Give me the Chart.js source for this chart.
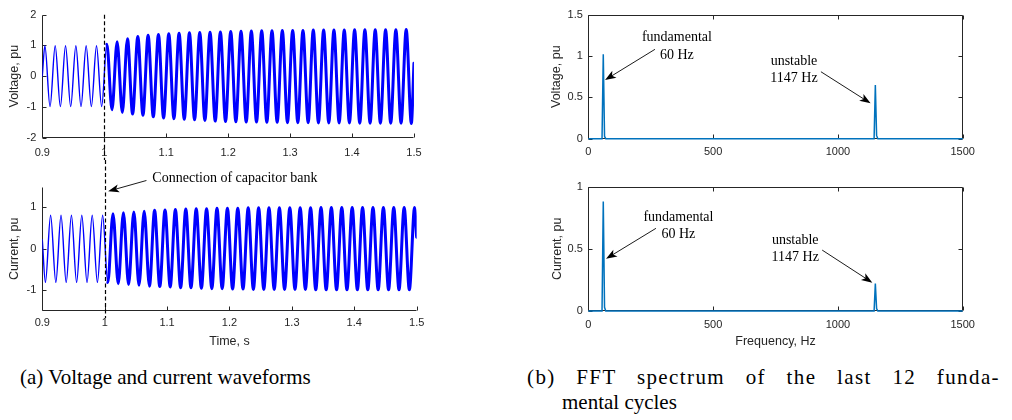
<!DOCTYPE html>
<html>
<head>
<meta charset="utf-8">
<script src="https://cdn.jsdelivr.net/npm/chart.js@4.4.1/dist/chart.umd.min.js"></script>
<style>
  body { margin: 0; background: #fff; width: 1012px; height: 420px; position: relative; overflow: hidden; }
  canvas { position: absolute; }
  .cap { position: absolute; font-family: "Liberation Serif", "Times New Roman", serif; font-size: 21px;
         color: #000; line-height: 24px; white-space: nowrap; }
</style>
</head>
<body>
<canvas id="vWave" width="430" height="160" style="left:0;top:0"></canvas>
<canvas id="iWave" width="430" height="190" style="left:0;top:160px"></canvas>
<canvas id="vFft" width="492" height="160" style="left:520px;top:0"></canvas>
<canvas id="iFft" width="492" height="190" style="left:520px;top:160px"></canvas>
<div class="cap" style="left:20px;top:365px">(a) Voltage and current waveforms</div>
<div class="cap" style="left:527px;top:365px;width:473px;white-space:normal;letter-spacing:1.4px;text-align:justify;text-align-last:justify">(b) FFT spectrum of the last 12 funda-</div>
<div class="cap" style="left:562px;top:390px">mental cycles</div>
<script>
// capacitor bank switched in at t = 1 s
const switchTime = 1.0;

// voltage peaks and troughs, time in s, value in pu
const vTimes = [0.9,
  0.9042, 0.9125, 0.9208, 0.9292, 0.9375, 0.9458, 0.9542, 0.9625, 0.9708, 0.9792, 0.9875, 0.9958,
  1.0042, 1.0125, 1.0208, 1.0292, 1.0375, 1.0458, 1.0542, 1.0625, 1.0708, 1.0792, 1.0875, 1.0958,
  1.1042, 1.1125, 1.1208, 1.1292, 1.1375, 1.1458, 1.1542, 1.1625, 1.1708, 1.1792, 1.1875, 1.1958,
  1.2042, 1.2125, 1.2208, 1.2292, 1.2375, 1.2458, 1.2542, 1.2625, 1.2708, 1.2792, 1.2875, 1.2958,
  1.3042, 1.3125, 1.3208, 1.3292, 1.3375, 1.3458, 1.3542, 1.3625, 1.3708, 1.3792, 1.3875, 1.3958,
  1.4042, 1.4125, 1.4208, 1.4292, 1.4375, 1.4458, 1.4542, 1.4625, 1.4708, 1.4792, 1.4875, 1.4958,
  1.5];
const vValues = [0,
  0.99, -0.99, 0.99, -0.99, 0.99, -0.99, 0.99, -0.99, 0.99, -0.99, 0.99, -0.99,
  1.04, -1.09, 1.12, -1.18, 1.22, -1.23, 1.29, -1.27, 1.33, -1.32, 1.36, -1.36,
  1.38, -1.38, 1.40, -1.40, 1.41, -1.42, 1.42, -1.44, 1.43, -1.46, 1.44, -1.47,
  1.45, -1.48, 1.46, -1.49, 1.47, -1.49, 1.48, -1.50, 1.48, -1.50, 1.49, -1.51,
  1.49, -1.51, 1.49, -1.51, 1.50, -1.52, 1.50, -1.52, 1.50, -1.52, 1.50, -1.52,
  1.51, -1.53, 1.51, -1.53, 1.51, -1.53, 1.51, -1.53, 1.51, -1.53, 1.52, -1.54,
  0.42];

// current troughs and peaks
const iTimes = [0.9,
  0.905, 0.9133, 0.9217, 0.93, 0.9383, 0.9467, 0.955, 0.9633, 0.9717, 0.98, 0.9883, 0.9967,
  1.005, 1.0133, 1.0217, 1.03, 1.0383, 1.0467, 1.055, 1.0633, 1.0717, 1.08, 1.0883, 1.0967,
  1.105, 1.1133, 1.1217, 1.13, 1.1383, 1.1467, 1.155, 1.1633, 1.1717, 1.18, 1.1883, 1.1967,
  1.205, 1.2133, 1.2217, 1.23, 1.2383, 1.2467, 1.255, 1.2633, 1.2717, 1.28, 1.2883, 1.2967,
  1.305, 1.3133, 1.3217, 1.33, 1.3383, 1.3467, 1.355, 1.3633, 1.3717, 1.38, 1.3883, 1.3967,
  1.405, 1.4133, 1.4217, 1.43, 1.4383, 1.4467, 1.455, 1.4633, 1.4717, 1.48, 1.4883, 1.4967,
  1.5];
const iValues = [0.22,
  -0.81, 0.81, -0.81, 0.81, -0.81, 0.81, -0.81, 0.81, -0.81, 0.81, -0.81, 0.81,
  -0.81, 0.85, -0.84, 0.87, -0.86, 0.89, -0.88, 0.91, -0.90, 0.93, -0.91, 0.94,
  -0.92, 0.95, -0.94, 0.96, -0.94, 0.97, -0.95, 0.97, -0.96, 0.98, -0.96, 0.98,
  -0.97, 0.98, -0.97, 0.99, -0.98, 0.99, -0.98, 0.99, -0.98, 0.99, -0.98, 0.99,
  -0.98, 0.99, -0.98, 0.99, -0.99, 1.00, -0.99, 1.00, -0.99, 1.00, -0.99, 1.00,
  -0.99, 1.00, -0.99, 1.00, -0.99, 1.00, -0.99, 1.00, -0.99, 1.00, -0.99, 1.00,
  0.28];

// FFT bins (Hz) and magnitudes (pu), panel (b)
const freqBins = [0, 55, 60, 65, 70, 1145, 1150, 1155, 1160, 1500];
const vMag = [0, 0, 1.02, 0.03, 0, 0, 0.65, 0.04, 0, 0];
const iMag = [0, 0, 0.88, 0.03, 0, 0, 0.22, 0.02, 0, 0];

// tick labels
const timeTicks = [0.9, 1, 1.1, 1.2, 1.3, 1.4, 1.5];
const freqTicks = [0, 500, 1000, 1500];
const vWaveTicks = [-2, -1, 0, 1, 2];
const iWaveTicks = [-1, 0, 1];
const vFftTicks = [0, 0.5, 1, 1.5];
const iFftTicks = [0, 0.5, 1];

const axisColor = '#262626';
const sans = '"Liberation Sans", Arial, sans-serif';
const serif = '"Liberation Serif", "Times New Roman", serif';
Chart.defaults.font.family = sans;

function arrow(ctx, x1, y1, x2, y2) {
  const a = Math.atan2(y2 - y1, x2 - x1), c = Math.cos(a), s = Math.sin(a);
  const len = 11, w = 4;
  const bx = x2 - c * len, by = y2 - s * len;
  ctx.strokeStyle = '#000';
  ctx.lineWidth = 0.9;
  ctx.beginPath();
  ctx.moveTo(x1, y1);
  ctx.lineTo(x2 - c * 7, y2 - s * 7);
  ctx.stroke();
  ctx.beginPath();
  ctx.moveTo(x2, y2);
  ctx.lineTo(bx - s * w, by + c * w);
  ctx.lineTo(x2 - c * len * 0.75, y2 - s * len * 0.75);
  ctx.lineTo(bx + s * w, by - c * w);
  ctx.closePath();
  ctx.fillStyle = '#000';
  ctx.fill();
}

// matlab style axes: inward ticks, optional box
const frame = {
  id: 'frame',
  beforeDatasetsDraw(chart, args, o) {
    const {ctx, chartArea: a, scales: {x, y}} = chart;
    const L = Math.round(a.left) + 0.5, R = Math.round(a.right) - 0.5;
    const T = Math.round(a.top) + 0.5, B = Math.round(a.bottom) - 0.5;
    const len = 4;
    ctx.save();
    ctx.strokeStyle = axisColor;
    ctx.lineWidth = 1;
    ctx.beginPath();
    ctx.moveTo(L, T); ctx.lineTo(L, B); ctx.lineTo(R, B);
    if (o.box) { ctx.lineTo(R, T); ctx.lineTo(L, T); }
    x.ticks.forEach(t => {
      const px = Math.round(x.getPixelForValue(t.value)) + 0.5;
      ctx.moveTo(px, B); ctx.lineTo(px, B - len);
      if (o.box) { ctx.moveTo(px, T); ctx.lineTo(px, T + len); }
    });
    y.ticks.forEach(t => {
      const py = Math.round(y.getPixelForValue(t.value)) + 0.5;
      ctx.moveTo(L, py); ctx.lineTo(L + len, py);
      if (o.box) { ctx.moveTo(R, py); ctx.lineTo(R - len, py); }
    });
    ctx.stroke();
    ctx.restore();
  }
};

// dashed switching line, text notes and arrows, placed in data units
const notes = {
  id: 'notes',
  afterDatasetsDraw(chart, args, o) {
    const {ctx, scales: {x, y}} = chart;
    ctx.save();
    if (o.dash) {
      const px = Math.round(x.getPixelForValue(o.dash.t)) + 0.5;
      ctx.strokeStyle = '#000';
      ctx.lineWidth = 1.2;
      ctx.setLineDash([4, 2.5]);
      ctx.beginPath();
      ctx.moveTo(px, o.dash.from === null ? 0 : y.getPixelForValue(o.dash.from));
      ctx.lineTo(px, o.dash.to === null ? chart.height : y.getPixelForValue(o.dash.to));
      ctx.stroke();
      ctx.setLineDash([]);
    }
    ctx.font = '14px ' + serif;
    ctx.fillStyle = '#000';
    ctx.textBaseline = 'middle';
    (o.labels || []).forEach(l => {
      ctx.textAlign = l.align || 'center';
      l.lines.forEach((s, i) => ctx.fillText(s, x.getPixelForValue(l.x), y.getPixelForValue(l.y) + i * 17.5));
    });
    (o.arrows || []).forEach(a => arrow(ctx,
      x.getPixelForValue(a.x1), y.getPixelForValue(a.y1),
      x.getPixelForValue(a.x2), y.getPixelForValue(a.y2)));
    ctx.restore();
  }
};

function axis(min, max, ticks, pad, title, titlePad) {
  return {
    type: 'linear', min, max,
    afterBuildTicks: s => { s.ticks = ticks.map(v => ({value: v})); },
    grid: {display: false, drawTicks: false},
    border: {display: false},
    ticks: {padding: pad, color: axisColor, font: {size: 11}, autoSkip: false, maxRotation: 0,
            callback: v => String(+v.toFixed(2))},
    title: title ? {display: true, text: title, color: axisColor, font: {size: 12.5}, padding: titlePad}
                 : {display: false}
  };
}

function makeChart(id, o) {
  const x = axis(o.x.min, o.x.max, o.x.ticks, o.x.pad, o.x.title, {top: 0, bottom: 1});
  x.afterFit = s => { s.height = o.x.height; };
  const y = axis(o.y.min, o.y.max, o.y.ticks, o.y.pad, o.y.title, {top: o.y.titlePad, bottom: 0});
  y.afterFit = s => { s.width = o.y.width; };
  return new Chart(document.getElementById(id), {
    type: 'line',
    data: {datasets: [o.dataset]},
    options: {
      responsive: false,
      devicePixelRatio: 1,
      animation: false,
      events: [],
      layout: {padding: o.padding},
      scales: {x, y},
      plugins: {
        legend: {display: false},
        tooltip: {enabled: false},
        frame: {box: o.box},
        notes: o.notes
      }
    },
    plugins: [frame, notes]
  });
}

function waveSet(times, values) {
  return {
    data: times.map((t, i) => ({x: t, y: values[i]})),
    borderColor: '#0000ff',
    borderWidth: 1.4,
    pointRadius: 0,
    cubicInterpolationMode: 'monotone',
    borderJoinStyle: 'round',
    borderCapStyle: 'round',
    segment: {borderWidth: c => (c.p0.parsed.x >= switchTime ? 3 : 1.4)}
  };
}

function fftSet(values) {
  return {
    data: freqBins.map((f, i) => ({x: f, y: values[i]})),
    borderColor: '#0072bd',
    borderWidth: 1.5,
    pointRadius: 0,
    tension: 0,
    clip: false
  };
}

makeChart('vWave', {
  dataset: waveSet(vTimes, vValues),
  padding: {top: 14.7, right: 12.3, left: 0, bottom: 0},
  box: false,
  x: {min: 0.9, max: 1.5, ticks: timeTicks, height: 22.3, pad: 8.4},
  y: {min: -2, max: 2, ticks: vWaveTicks, width: 42.3, pad: 6, title: 'Voltage, pu', titlePad: 7.5},
  notes: {dash: {t: switchTime, from: 2, to: null}}
});

makeChart('iWave', {
  dataset: waveSet(iTimes, iValues),
  padding: {top: 26.7, right: 12.3, left: 0, bottom: 0},
  box: false,
  x: {min: 0.9, max: 1.5, ticks: timeTicks, height: 39, pad: 5.7, title: 'Time, s'},
  y: {min: -1.5, max: 1.5, ticks: iWaveTicks, width: 42.3, pad: 6, title: 'Current, pu', titlePad: 7.5},
  notes: {
    dash: {t: switchTime, from: null, to: -1.67},
    labels: [{lines: ['Connection of capacitor bank'], x: 1.0764, y: 1.69, align: 'left'}],
    arrows: [{x1: 1.0669, y1: 1.65, x2: 1.0055, y2: 1.39}]
  }
});

makeChart('vFft', {
  dataset: fftSet(vMag),
  padding: {top: 14.7, right: 49.3, left: 0, bottom: 0},
  box: true,
  x: {min: 0, max: 1500, ticks: freqTicks, height: 21.3, pad: 6.4},
  y: {min: 0, max: 1.5, ticks: vFftTicks, width: 68.3, pad: 5.5, title: 'Voltage, pu', titlePad: 29.2},
  notes: {
    labels: [{lines: ['fundamental', '60 Hz'], x: 355, y: 1.222},
             {lines: ['unstable', '1147 Hz'], x: 824, y: 0.94}],
    arrows: [{x1: 267, y1: 1.081, x2: 67, y2: 0.71},
             {x1: 932, y1: 0.81, x2: 1131, y2: 0.428}]
  }
});

makeChart('iFft', {
  dataset: fftSet(iMag),
  padding: {top: 26.7, right: 49.3, left: 0, bottom: 0},
  box: true,
  x: {min: 0, max: 1500, ticks: freqTicks, height: 39, pad: 7.4, title: 'Frequency, Hz'},
  y: {min: 0, max: 1, ticks: iFftTicks, width: 68.3, pad: 5.5, title: 'Current, pu', titlePad: 30.5},
  notes: {
    labels: [{lines: ['fundamental', '60 Hz'], x: 361, y: 0.757},
             {lines: ['unstable', '1147 Hz'], x: 829, y: 0.571}],
    arrows: [{x1: 271, y1: 0.665, x2: 71, y2: 0.42},
             {x1: 937, y1: 0.49, x2: 1138, y2: 0.228}]
  }
});
</script>
</body>
</html>
